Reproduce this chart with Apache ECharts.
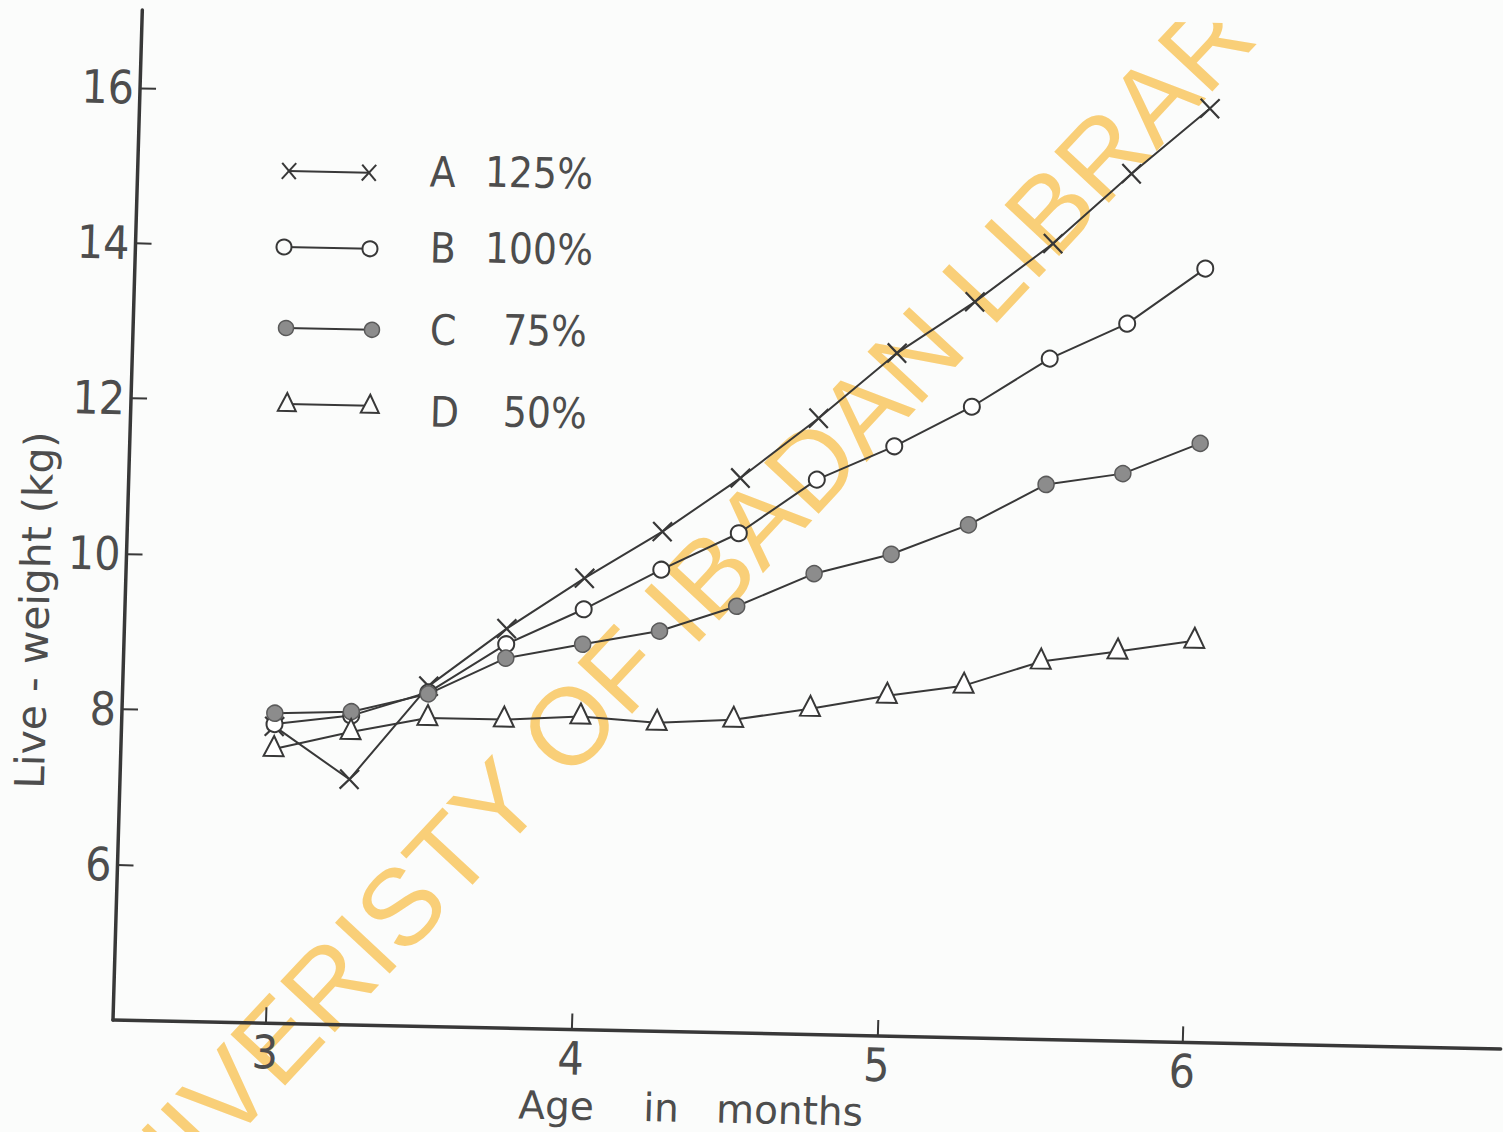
<!DOCTYPE html>
<html>
<head>
<meta charset="utf-8">
<title>Live-weight of animals by feeding level</title>
<script src="https://cdn.jsdelivr.net/npm/echarts@6/dist/echarts.min.js"></script>
<style>
  html, body { margin: 0; padding: 0; background: #fbfcfb; overflow: hidden; }
  /* the plotted sheet sits slightly askew on the page */
  #chart {
    width: 1503px; height: 1132px;
    transform: matrix(0.99978, 0.0209, -0.029, 0.99958, 0, 0);
    transform-origin: 113px 1020px;
  }
</style>
</head>
<body>
<div id="chart"></div>
<script>
// Age at each weighing (months)
const ageMonths = [3, 3.25, 3.5, 3.75, 4, 4.25, 4.5, 4.75, 5, 5.25, 5.5, 5.75, 6];

// Mean live weight (kg) for each feeding level
const weightA125 = [7.82, 7.16, 8.38, 9.14, 9.81, 10.43, 11.14, 11.93, 12.79, 13.47, 14.24, 15.16, 16.02];
const weightB100 = [7.85, 7.98, 8.30, 8.94, 9.41, 9.94, 10.43, 11.14, 11.59, 12.12, 12.76, 13.23, 13.96];
const weightC75  = [7.99, 8.03, 8.28, 8.76, 8.96, 9.15, 9.49, 9.93, 10.20, 10.60, 11.14, 11.30, 11.71];
const weightD50  = [7.53, 7.77, 7.97, 7.97, 8.03, 7.97, 8.03, 8.19, 8.38, 8.53, 8.86, 9.01, 9.17];

// Axis ticks and labels
const xTickValues = [3, 4, 5, 6];
const yTickValues = [6, 8, 10, 12, 14, 16];
const xAxisTitle = 'Age\u00a0\u00a0\u00a0\u00a0in\u00a0\u00a0\u00a0months';
const yAxisTitle = 'Live - weight (kg)';

// Key entries
const groupLetters = ['A', 'B', 'C', 'D'];
const groupLevels = ['125%', '100%', '75%', '50%'];

const watermarkText = 'UNIVERISTY OF IBADAN LIBRARY';

// ---- styling ----
const INK = '#383838';
const TEXT = '#4d4d4d';
const NUM_FONT = "'DejaVu Sans Condensed', 'DejaVu Sans', sans-serif";
const WORD_FONT = "'DejaVu Sans', sans-serif";
const CROSS = 'path://M0,0L10,10M10,0L0,10';

// sheet skew (must agree with the CSS matrix above)
const SK_A = 0.99978, SK_B = 0.0209, SK_C = -0.029, SK_D = 0.99958;
const PIVOT_X = 113, PIVOT_Y = 1020;
const SK_DET = SK_A * SK_D - SK_B * SK_C;
// convert a point on the askew page back into the chart's own coordinates
function toSheet(sx, sy) {
  const dx = sx - PIVOT_X, dy = sy - PIVOT_Y;
  return [
    PIVOT_X + (SK_D * dx - SK_C * dy) / SK_DET,
    PIVOT_Y + (-SK_B * dx + SK_A * dy) / SK_DET
  ];
}
// angle (radians, anticlockwise) that appears as `deg` on the page
function sheetAngle(deg) {
  const r = deg * Math.PI / 180;
  const tx = Math.cos(r), ty = -Math.sin(r);
  const ux = (SK_D * tx - SK_C * ty) / SK_DET;
  const uy = (-SK_B * tx + SK_A * ty) / SK_DET;
  return Math.atan2(-uy, ux);
}

function pairs(values) {
  return ageMonths.map((m, i) => [m, values[i]]);
}

function lineSeries(name, values, symbol, size, itemStyle, offset) {
  return {
    type: 'line',
    name: name,
    data: pairs(values),
    symbol: symbol,
    symbolSize: size,
    symbolOffset: offset || [0, 0],
    showAllSymbol: true,
    lineStyle: { color: INK, width: 2 },
    itemStyle: itemStyle,
    emphasis: { disabled: true },
    z: 3
  };
}

// ---- key (top left of the plot) ----
const keyRows = [
  { kind: 'cross', lineY: 171, x1: 289, x2: 369, textY: 172, levelX: 485 },
  { kind: 'ring',  lineY: 247, x1: 284, x2: 370, textY: 248, levelX: 485 },
  { kind: 'dot',   lineY: 328, x1: 286, x2: 372, textY: 330, levelX: 503 },
  { kind: 'tri',   lineY: 404, x1: 287, x2: 370, textY: 412, levelX: 503 }
];

function keyMarker(kind, cx, cy) {
  if (kind === 'cross') {
    return [
      { type: 'line', shape: { x1: cx - 7, y1: cy - 8, x2: cx + 7, y2: cy + 8 }, style: { stroke: INK, lineWidth: 2 } },
      { type: 'line', shape: { x1: cx + 7, y1: cy - 8, x2: cx - 7, y2: cy + 8 }, style: { stroke: INK, lineWidth: 2 } }
    ];
  }
  if (kind === 'ring') {
    return [{ type: 'circle', shape: { cx: cx, cy: cy, r: 7.5 }, style: { fill: '#fbfcfb', stroke: INK, lineWidth: 2 } }];
  }
  if (kind === 'dot') {
    return [{ type: 'circle', shape: { cx: cx, cy: cy, r: 7.5 }, style: { fill: '#8c8c8c', stroke: '#5a5a5a', lineWidth: 1.5 } }];
  }
  return [{ type: 'polygon', shape: { points: [[cx, cy - 11], [cx + 9, cy + 7], [cx - 9, cy + 7]] }, style: { fill: '#fbfcfb', stroke: INK, lineWidth: 2 } }];
}

const keyElements = [];
keyRows.forEach((row, i) => {
  const [ax, ay] = toSheet(row.x1, row.lineY);
  const len = row.x2 - row.x1;
  const children = [
    { type: 'line', shape: { x1: 0, y1: 0, x2: len, y2: 0 }, style: { stroke: INK, lineWidth: 2 } }
  ].concat(keyMarker(row.kind, 0, 0), keyMarker(row.kind, len, 0));
  keyElements.push({ type: 'group', x: ax, y: ay, silent: true, children: children });

  const [lx, ly] = toSheet(430, row.textY);
  keyElements.push({
    type: 'text', x: lx, y: ly, silent: true,
    style: { text: groupLetters[i], fontSize: 42, fontFamily: NUM_FONT, fill: TEXT, textAlign: 'left', textVerticalAlign: 'middle' }
  });
  const [vx, vy] = toSheet(row.levelX, row.textY);
  keyElements.push({
    type: 'text', x: vx, y: vy, silent: true,
    style: { text: groupLevels[i], fontSize: 42, fontFamily: NUM_FONT, fill: TEXT, textAlign: 'left', textVerticalAlign: 'middle' }
  });
});

// library stamp across the sheet (laid on the page, not the sheet)
const [wmX, wmY] = toSheet(677, 610);
const watermark = {
  type: 'text', x: wmX, y: wmY, z: -10, silent: true,
  rotation: sheetAngle(47),
  style: {
    text: watermarkText, fontSize: 109, fontFamily: "'Liberation Sans', Arial, sans-serif",
    fill: '#f9cf78', textAlign: 'center', textVerticalAlign: 'middle'
  }
};

const chart = echarts.init(document.getElementById('chart'), null, { renderer: 'svg' });

chart.setOption({
  animation: false,
  backgroundColor: '#fbfcfb',
  grid: { left: 113, right: 2, top: 9.6, bottom: 112, containLabel: false, outerBoundsMode: 'none' },
  xAxis: {
    type: 'value', min: 2.5, max: 7.04,
    axisLine: { show: true, onZero: false, lineStyle: { color: INK, width: 3.5 } },
    axisTick: { show: true, inside: true, length: 16, customValues: xTickValues, lineStyle: { color: INK, width: 2 } },
    axisLabel: { customValues: xTickValues, margin: 6, fontSize: 46, fontFamily: NUM_FONT, color: TEXT },
    splitLine: { show: false },
    name: xAxisTitle, nameLocation: 'middle', nameGap: 51,
    nameTextStyle: { fontSize: 39, fontFamily: WORD_FONT, color: TEXT, padding: [0, 228, 0, 0] }
  },
  yAxis: {
    type: 'value', min: 4, max: 17,
    axisLine: { show: true, onZero: false, lineStyle: { color: INK, width: 3.5 } },
    axisTick: { show: true, inside: true, length: 16, customValues: yTickValues, lineStyle: { color: INK, width: 2 } },
    axisLabel: { customValues: yTickValues, margin: 6, fontSize: 46, fontFamily: NUM_FONT, color: TEXT },
    splitLine: { show: false },
    name: yAxisTitle, nameLocation: 'middle', nameRotate: 90, nameGap: 66,
    nameTextStyle: { fontSize: 41, fontFamily: WORD_FONT, color: TEXT, padding: [0, 194, 0, 0] }
  },
  graphic: { elements: [watermark].concat(keyElements) },
  series: [
    lineSeries('A 125%', weightA125, CROSS, 19, { color: 'rgba(0,0,0,0)', borderColor: INK, borderWidth: 2.2 }),
    lineSeries('B 100%', weightB100, 'emptyCircle', 16, { color: INK, borderWidth: 2 }),
    lineSeries('C 75%', weightC75, 'circle', 16, { color: '#8c8c8c', borderColor: '#5a5a5a', borderWidth: 1.5 }),
    lineSeries('D 50%', weightD50, 'emptyTriangle', 20, { color: INK, borderWidth: 2 }, [0, -3])
  ]
});
</script>
</body>
</html>
